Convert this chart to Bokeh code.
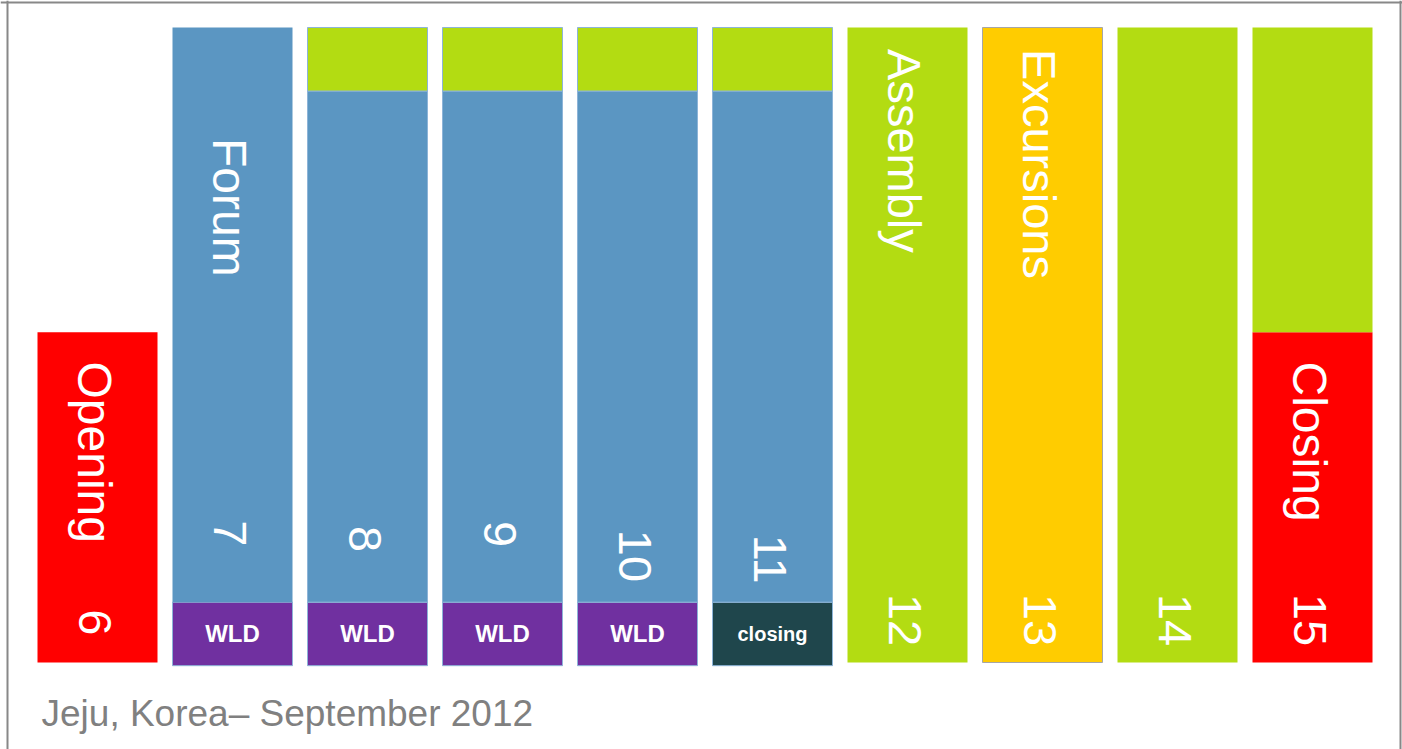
from bokeh.plotting import figure
from bokeh.models import ColumnDataSource, Span, Label
from bokeh.core.properties import value
from bokeh.embed import file_html
from bokeh.resources import INLINE
from bokeh.transform import dodge
import math

# ---------------- data ----------------
days = [6, 7, 8, 9, 10, 11, 12, 13, 14, 15]
day_labels = ["6", "7", "8", "9", "10", "11", "12", "13", "14", "15"]
day_label_pos = [0.84, 2.24, 2.15, 2.23, 2.09, 2.01, 1.08, 1.08, 1.08, 1.08]

seg_day = [6, 7, 7, 8, 8, 8, 9, 9, 9, 10, 10, 10, 11, 11, 11, 12, 13, 14, 15, 15]
seg_start = [0.0, -0.05, 0.95, -0.05, 0.95, 9.0, -0.05, 0.95, 9.0, -0.05, 0.95, 9.0,
             -0.05, 0.95, 9.0, 0.0, 0.0, 0.0, 0.0, 5.2]
seg_end = [5.2, 0.95, 10.0, 0.95, 9.0, 10.0, 0.95, 9.0, 10.0, 0.95, 9.0, 10.0,
           0.95, 9.0, 10.0, 10.0, 10.0, 10.0, 5.2, 10.0]
seg_kind = ["ceremony", "wld", "forum", "wld", "forum", "assembly", "wld", "forum", "assembly",
            "wld", "forum", "assembly", "closing", "forum", "assembly", "assembly", "excursion",
            "assembly", "ceremony", "assembly"]

name_text = ["Opening", "Forum", "Assembly", "Excursions", "Closing"]
name_day = [6, 7, 12, 13, 15]
name_pos = [4.74, 8.26, 9.66, 9.66, 4.74]

session_text = ["WLD", "WLD", "WLD", "WLD", "closing"]
session_day = [7, 8, 9, 10, 11]
session_pos = [0.45, 0.45, 0.45, 0.45, 0.45]

footer = "Jeju, Korea\u2013 September 2012"

kind_color = {"ceremony": "#FF0000", "forum": "#5B96C2", "wld": "#7030A0",
              "closing": "#1F464C", "assembly": "#B3DC12", "excursion": "#FFCC00"}

# ---------------- layout ----------------
W, H = 1402, 749
FX0, FY0 = 0, 0            # picture coordinates = figure coordinates
PX_DAY = 135.0             # pixels per day
SX_DAY6 = 97.0             # x of day-6 centre
PX_UNIT = 63.5             # pixels per y unit
SY_ZERO = 662.0            # y of value 0
ROT_SHIFT = -3 / PX_DAY    # rotated labels sit slightly left of centre


def dx(sx):
    return 6 + (sx - SX_DAY6) / PX_DAY


def dy(sy):
    return (SY_ZERO - sy) / PX_UNIT


p = figure(width=W, height=H, output_backend="svg", toolbar_location=None,
           x_range=(dx(FX0), dx(FX0 + W)), y_range=(dy(FY0 + H), dy(FY0)),
           min_border=0)
p.xaxis.visible = False
p.yaxis.visible = False
p.grid.visible = False
p.outline_line_color = None
p.background_fill_color = "white"
p.border_fill_color = "white"

line_colors = []
for d, k in zip(seg_day, seg_kind):
    if k == "excursion":
        line_colors.append("#A6A6A6")
    elif 7 <= d <= 11 and not (d == 7 and k == "forum"):
        line_colors.append("#8DB4D8")
    else:
        line_colors.append(None)

src = ColumnDataSource(dict(day=seg_day, start=seg_start, end=seg_end,
                            color=[kind_color[k] for k in seg_kind],
                            lc=line_colors))
p.vbar(x="day", bottom="start", top="end", width=120 / PX_DAY, source=src,
       fill_color="color", line_color="lc", line_width=1)

font = value("Liberation Sans")
sizes = ["48px", "48px", "47px", "47px", "48px"]
for d, pos, t, s in zip(name_day, name_pos, name_text, sizes):
    ns = ColumnDataSource(dict(x=[d], y=[pos], t=[t]))
    p.text(x=dodge("x", ROT_SHIFT), y="y", text="t", source=ns, angle=-math.pi / 2,
           text_color="white", text_font=font, text_font_size=s,
           text_align="left", text_baseline="middle")
ds = ColumnDataSource(dict(x=days, y=day_label_pos, t=day_labels))
p.text(x=dodge("x", ROT_SHIFT), y="y", text="t", source=ds, angle=-math.pi / 2,
       text_color="white", text_font=font, text_font_size="47px",
       text_align="left", text_baseline="middle")
p.text(x=session_day[:4], y=session_pos[:4], text=session_text[:4],
       text_color="white", text_font=font, text_font_size="24px", text_font_style="bold",
       text_align="center", text_baseline="middle")
p.text(x=session_day[4:], y=session_pos[4:], text=session_text[4:],
       text_color="white", text_font=font, text_font_size="20px", text_font_style="bold",
       text_align="center", text_baseline="middle")

p.add_layout(Label(x=dx(41), y=dy(713), text=footer, text_color="#808080",
                   text_font="Liberation Sans", text_font_size="37px",
                   text_align="left", text_baseline="alphabetic"))

# frame border (left, top, right)
for loc in (dx(7), dx(1400)):
    p.add_layout(Span(location=loc, dimension="height", line_color="#888888", line_width=2))
p.add_layout(Span(location=dy(2), dimension="width", line_color="#888888", line_width=2))

open("out.html", "w").write(file_html(p, INLINE))
